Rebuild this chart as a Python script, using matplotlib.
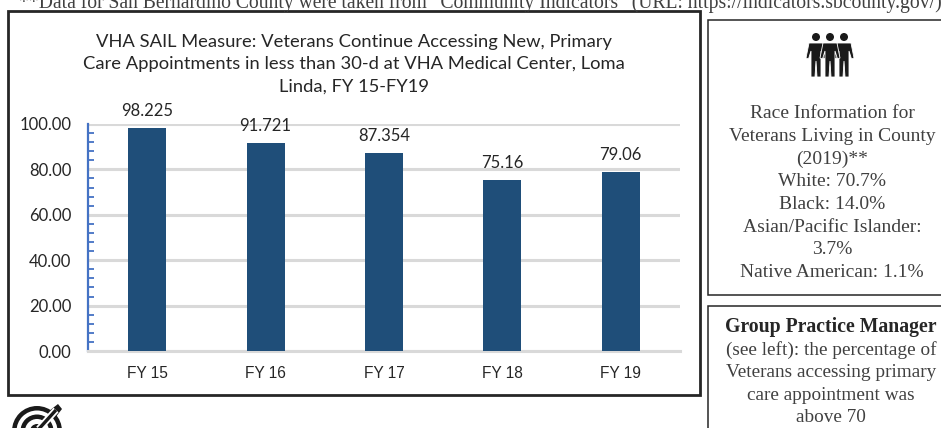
import matplotlib
matplotlib.use("Agg")
import matplotlib.pyplot as plt
from matplotlib.patches import Rectangle, Circle, Polygon, Wedge

W, H = 941, 428

# Chart data
categories = ["FY 15", "FY 16", "FY 17", "FY 18", "FY 19"]
values = [98.225, 91.721, 87.354, 75.16, 79.06]
value_labels = ["98.225", "91.721", "87.354", "75.16", "79.06"]
y_ticks = [0, 20, 40, 60, 80, 100]
y_minor = [v for v in range(0, 101, 4)]

title = ("VHA SAIL Measure: Veterans Continue Accessing New, Primary\n"
         "Care Appointments in less than 30-d at VHA Medical Center, Loma\n"
         "Linda, FY 15-FY19")
footnote = "**Data for San Bernardino County were taken from \u201cCommunity Indicators\u201d (URL: https://indicators.sbcounty.gov/)"
race_lines = ["Race Information for", "Veterans Living in County", "(2019)**", "White: 70.7%",
              "Black: 14.0%", "Asian/Pacific Islander:", "3.7%", "Native American: 1.1%"]
manager_lines = ["(see left): the percentage of", "Veterans accessing primary",
                 "care appointment was", "above 70"]

SANS = ["Lato", "DejaVu Sans"]
SERIF = ["Liberation Serif", "DejaVu Serif"]
DARK = "#262626"
TEXT = "#404040"
ICON = "#1a1a1a"

fig = plt.figure(figsize=(W / 100, H / 100), dpi=100, facecolor="white")

# Page layer in pixel coordinates: boxes, side text, icons
page = fig.add_axes([0, 0, 1, 1])
page.set_xlim(0, W)
page.set_ylim(H, 0)
page.axis("off")

page.add_patch(Rectangle((8, 11), 692, 384, fc="white", ec=DARK, lw=2))
page.add_patch(Rectangle((708, 20), 240, 275, fc="white", ec=DARK, lw=1.1))
page.add_patch(Rectangle((708, 306), 240, 140, fc="white", ec=DARK, lw=1.1))

page.text(19, 3, footnote, family=SERIF, fontsize=14.15, color=TEXT, va="center", ha="left")

for i, line in enumerate(race_lines):
    page.text(832, 113.5 + i * 22.7, line, family=SERIF, fontsize=14, color=TEXT, ha="center", va="center")

page.text(831, 327, "Group Practice Manager", family=SERIF, fontsize=14.2, color=DARK,
          fontweight="bold", ha="center", va="center")
for i, line in enumerate(manager_lines):
    page.text(831, 350 + i * 22.6, line, family=SERIF, fontsize=13.9, color=TEXT, ha="center", va="center")

page.text(354, 64, title, family=SANS, fontsize=13.2, color=DARK, ha="center", va="center", linespacing=1.5)


# People icon
def person(cx, top):
    page.add_patch(Circle((cx, top + 4), 4, fc=ICON, ec="none"))
    page.add_patch(Polygon([(cx - 10, top + 25), (cx - 7, top + 10), (cx + 7, top + 10), (cx + 10, top + 25),
                            (cx + 7.5, top + 26), (cx + 5, top + 18), (cx + 5, top + 44), (cx + 1, top + 44),
                            (cx, top + 28), (cx - 1, top + 44), (cx - 5, top + 44), (cx - 5, top + 18),
                            (cx - 7.5, top + 26)], fc=ICON, ec="white", lw=0.6))


person(816, 33)
person(844, 33)
person(830, 33)

# Target icon, cut off by the page bottom
for r in (25, 16.5):
    page.add_patch(Wedge((37, 431), r, 180, 360, width=4.5, fc=ICON, ec="none"))
page.add_patch(Circle((37, 431), 7, fc=ICON, ec="none"))
page.plot([37, 56], [431, 410], color="white", lw=5, solid_capstyle="butt")
page.plot([37, 56], [431, 410], color=ICON, lw=2.4, solid_capstyle="butt")
page.add_patch(Polygon([(49, 411), (58, 404), (62, 409), (55, 418)], fc=ICON, ec="none"))

# Bar chart, x span 88-680 px, y span 124-351 px
ax = fig.add_axes([88 / W, 1 - 351 / H, 592 / W, 227 / H])
ax.patch.set_alpha(0)
ax.bar(categories, values, width=0.32, color="#1F4E79", zorder=3)
ax.set_xlim(-0.5, 4.5)
ax.set_ylim(0, 100)

ax.set_yticks(y_ticks)
ax.set_yticklabels([f"{v:.2f}" for v in y_ticks], family=SANS, fontsize=12, color=DARK)
ax.set_yticks(y_minor, minor=True)
ax.tick_params(axis="y", which="major", length=0, pad=12)
ax.tick_params(axis="y", which="minor", direction="in", length=4.5, width=1.3, color="#4472C4")
ax.tick_params(axis="x", length=0, pad=10.5, labelsize=11.2, labelcolor=DARK)
for lab in ax.get_xticklabels():
    lab.set_family(["Liberation Sans", "DejaVu Sans"])

ax.grid(axis="y", color="#D9D9D9", lw=2.2, zorder=1)
ax.set_axisbelow(True)
for side in ("top", "right"):
    ax.spines[side].set_visible(False)
ax.spines["bottom"].set_color("#D9D9D9")
ax.spines["bottom"].set_linewidth(2.2)
ax.spines["left"].set_color("#4472C4")
ax.spines["left"].set_linewidth(1.6)

for i, (v, lab) in enumerate(zip(values, value_labels)):
    ax.annotate(lab, (i, v), xytext=(0, 6.5), textcoords="offset points", ha="center", va="bottom",
                family=SANS, fontsize=12, color=DARK, annotation_clip=False)

fig.savefig("out.png", dpi=100)
